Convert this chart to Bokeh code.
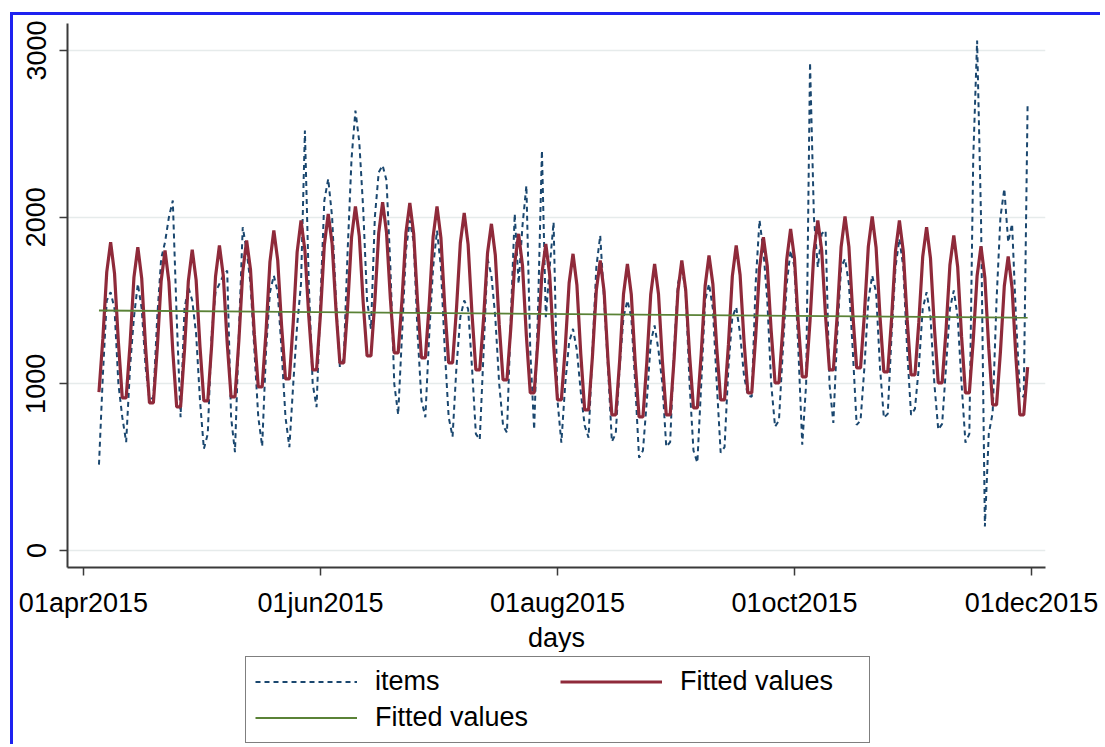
import pandas as pd
from bokeh.plotting import figure
from bokeh.layouts import column
from bokeh.models import (Range1d, FixedTicker, CustomJSTickFormatter, Legend,
                          LegendItem, ColumnDataSource)
from bokeh.embed import file_html
from bokeh.resources import INLINE

# ---------------- data ----------------
first_day = "2015-04-05"

items = [
    515, 1050, 1500, 1550, 1450, 1000, 800,
    650, 1100, 1400, 1600, 1450, 1100, 900,
    920, 1400, 1750, 1850, 2000, 2100, 1400,
    800, 1450, 1580, 1500, 1300, 900, 610,
    700, 1300, 1550, 1600, 1650, 1680, 800,
    590, 1300, 1940, 1800, 1600, 1200, 800,
    625, 1200, 1550, 1650, 1550, 1200, 800,
    620, 1000, 1350, 1600, 2520, 1600, 1000,
    860, 1500, 2100, 2230, 2000, 1500, 1100,
    1150, 1800, 2350, 2640, 2450, 2050, 1500,
    1330, 2000, 2270, 2310, 2220, 1700, 1000,
    815, 1300, 1800, 1980, 1850, 1300, 900,
    800, 1300, 1700, 1920, 1700, 1200, 800,
    683, 1100, 1400, 1500, 1450, 1100, 700,
    665, 1200, 1750, 1650, 1400, 1000, 750,
    707, 1400, 2020, 1600, 1950, 2190, 1200,
    725, 1450, 2400, 1400, 1700, 1970, 900,
    647, 1000, 1250, 1330, 1200, 950, 750,
    677, 1200, 1700, 1890, 1500, 1100, 653,
    700, 1100, 1400, 1500, 1400, 1000, 557,
    600, 900, 1250, 1350, 1200, 1000, 623,
    650, 1200, 1600, 1700, 1550, 1000, 600,
    527, 1000, 1500, 1600, 1450, 1000, 587,
    620, 1100, 1400, 1460, 1300, 1050, 930,
    922, 1600, 1982, 1800, 1500, 1000, 743,
    780, 1200, 1600, 1800, 1700, 1200, 635,
    1000, 2928, 2000, 1700, 1900, 1920, 1000,
    766, 1300, 1700, 1750, 1600, 1200, 754,
    780, 1100, 1500, 1650, 1550, 1100, 796,
    820, 1300, 1700, 1870, 1700, 1200, 814,
    850, 1100, 1450, 1550, 1400, 1000, 725,
    760, 1100, 1450, 1560, 1400, 1000, 647,
    700, 2350, 3060, 2000, 144, 700, 826,
    1500, 2000, 2170, 1850, 1960, 1400, 950,
    920, 2690,
]

fitted_weekly = [
    950, 1271, 1670, 1850, 1663, 1249, 916,
    916, 1239, 1639, 1820, 1633, 1219, 886,
    886, 1212, 1617, 1800, 1612, 1197, 862,
    862, 1199, 1616, 1805, 1624, 1222, 898,
    898, 1231, 1644, 1830, 1648, 1246, 922,
    922, 1257, 1672, 1860, 1684, 1295, 982,
    982, 1317, 1732, 1920, 1742, 1348, 1030,
    1030, 1369, 1790, 1980, 1801, 1404, 1084,
    1084, 1418, 1833, 2020, 1841, 1445, 1126,
    1126, 1461, 1877, 2065, 1886, 1488, 1168,
    1168, 1497, 1906, 2090, 1909, 1509, 1186,
    1186, 1507, 1905, 2085, 1899, 1488, 1156,
    1156, 1481, 1883, 2065, 1877, 1461, 1126,
    1126, 1447, 1845, 2025, 1837, 1420, 1084,
    1084, 1397, 1785, 1960, 1773, 1358, 1024,
    1024, 1337, 1725, 1900, 1709, 1287, 946,
    946, 1265, 1661, 1840, 1653, 1238, 904,
    904, 1217, 1605, 1780, 1593, 1178, 844,
    844, 1164, 1561, 1740, 1555, 1145, 814,
    814, 1137, 1539, 1720, 1536, 1130, 802,
    802, 1130, 1536, 1720, 1539, 1137, 814,
    814, 1145, 1555, 1740, 1563, 1172, 856,
    856, 1182, 1587, 1770, 1597, 1213, 904,
    904, 1235, 1645, 1830, 1653, 1262, 946,
    946, 1279, 1693, 1880, 1705, 1318, 1006,
    1006, 1336, 1745, 1930, 1752, 1359, 1042,
    1042, 1377, 1792, 1980, 1801, 1404, 1084,
    1084, 1413, 1821, 2005, 1823, 1421, 1096,
    1096, 1421, 1823, 2005, 1818, 1405, 1072,
    1072, 1396, 1798, 1980, 1795, 1385, 1054,
    1054, 1370, 1763, 1940, 1753, 1339, 1006,
    1006, 1322, 1713, 1890, 1701, 1283, 946,
    946, 1260, 1649, 1825, 1635, 1214, 874,
    874, 1192, 1587, 1765, 1575, 1154, 814,
    814, 1100,
]

trend_dates = ["2015-04-05", "2015-11-30"]
trend_values = [1440, 1397]

x_tick_dates = ["2015-04-01", "2015-06-01", "2015-08-01", "2015-10-01", "2015-12-01"]
x_tick_labels = ["01apr2015", "01jun2015", "01aug2015", "01oct2015", "01dec2015"]
y_ticks = [0, 1000, 2000, 3000]
x_title = "days"
legend_labels = ["items", "Fitted values", "Fitted values"]

# ---------------- sources ----------------
days = pd.date_range(first_day, periods=len(items), freq="D")
src = ColumnDataSource(dict(day=days, items=items, fit=fitted_weekly))
trend_src = ColumnDataSource(dict(day=pd.to_datetime(trend_dates), val=trend_values))
tick_ms = [int(pd.Timestamp(d).value // 10**6) for d in x_tick_dates]

origin = pd.Timestamp("2015-04-01")
x_range = Range1d(origin - pd.Timedelta(days=4.1), origin + pd.Timedelta(days=247.6))
y_range = Range1d(-102, 3162)

FONT = "Liberation Sans"
FS = "27px"
AXC = "#3a3a3a"
BLUE = "3px solid #1e22f0"

STYLE_ITEMS = dict(line_color="#1a476f", line_width=2, line_dash="5 4")
STYLE_FIT = dict(line_color="#8f2a3a", line_width=3.2)
STYLE_TREND = dict(line_color="#5a8236", line_width=1.8)

# ---------------- main chart ----------------
p = figure(width=1090, height=640, x_axis_type="datetime",
           x_range=x_range, y_range=y_range,
           output_backend="svg", toolbar_location=None,
           min_border_left=54, min_border_right=58,
           min_border_top=8, min_border_bottom=87)
p.styles = {"border-left": BLUE, "border-top": BLUE,
            "margin-left": "10px", "margin-top": "12px"}
p.outline_line_color = None
p.background_fill_color = "white"
p.border_fill_color = "white"

yt = FixedTicker(ticks=y_ticks)
p.yaxis.ticker = yt
p.ygrid.ticker = yt
p.ygrid.grid_line_color = "#e6ebeb"
p.ygrid.grid_line_width = 1.5
p.xgrid.visible = False

p.xaxis.ticker = FixedTicker(ticks=tick_ms)
p.xaxis.formatter = CustomJSTickFormatter(
    args=dict(tick_vals=tick_ms, tick_names=x_tick_labels),
    code="""
    let out = "";
    for (let i = 0; i < tick_vals.length; i++) {
        if (Math.abs(tick_vals[i] - tick) < 43200000) { out = tick_names[i]; }
    }
    return out;
    """)
p.xaxis.axis_label = x_title

for ax in (p.xaxis, p.yaxis):
    ax.axis_line_color = AXC
    ax.axis_line_width = 2
    ax.major_tick_line_color = AXC
    ax.major_tick_line_width = 1.5
    ax.major_tick_out = 8
    ax.major_tick_in = 0
    ax.minor_tick_line_color = None
    ax.major_label_text_font = FONT
    ax.major_label_text_font_size = FS
    ax.major_label_text_color = "black"
    ax.axis_label_text_font = FONT
    ax.axis_label_text_font_size = FS
    ax.axis_label_text_font_style = "normal"
    ax.axis_label_text_color = "black"

p.yaxis.major_label_orientation = "vertical"
p.yaxis.major_label_standoff = 14
p.xaxis.major_label_standoff = 12
p.xaxis.axis_label_standoff = 2

p.line("day", "items", source=src, **STYLE_ITEMS)
p.line("day", "fit", source=src, **STYLE_FIT)
p.line("day", "val", source=trend_src, **STYLE_TREND)

# ---------------- legend strip (below the chart) ----------------
# Same series, same styles; this strip's ranges lie outside the data, so only
# the legend swatches show.
p2 = figure(width=1090, height=92, x_range=Range1d(0, 1), y_range=Range1d(0, 1),
            output_backend="svg", toolbar_location=None, min_border=0,
            x_axis_location=None, y_axis_location=None)
p2.styles = {"border-left": BLUE, "margin-left": "10px"}
p2.grid.visible = False
p2.outline_line_color = None
p2.background_fill_color = "white"
p2.border_fill_color = "white"

k_items = p2.line("day", "items", source=src, **STYLE_ITEMS)
k_fit = p2.line("day", "fit", source=src, **STYLE_FIT)
k_trend = p2.line("day", "val", source=trend_src, **STYLE_TREND)

legend = Legend(
    items=[LegendItem(label=legend_labels[0], renderers=[k_items]),
           LegendItem(label=legend_labels[1], renderers=[k_fit]),
           LegendItem(label=legend_labels[2], renderers=[k_trend])],
    orientation="horizontal", ncols=2, location=(178, 1),
    label_text_font=FONT, label_text_font_size=FS, label_text_color="black",
    glyph_width=102, glyph_height=31, label_height=31, label_width=180,
    label_standoff=18, spacing=5, padding=9, margin=0,
    border_line_color="black", border_line_width=1.5,
    background_fill_color="white", background_fill_alpha=1.0)
p2.add_layout(legend, "center")

page = column(p, p2, spacing=0)
open("out.html", "w").write(file_html(page, INLINE))
